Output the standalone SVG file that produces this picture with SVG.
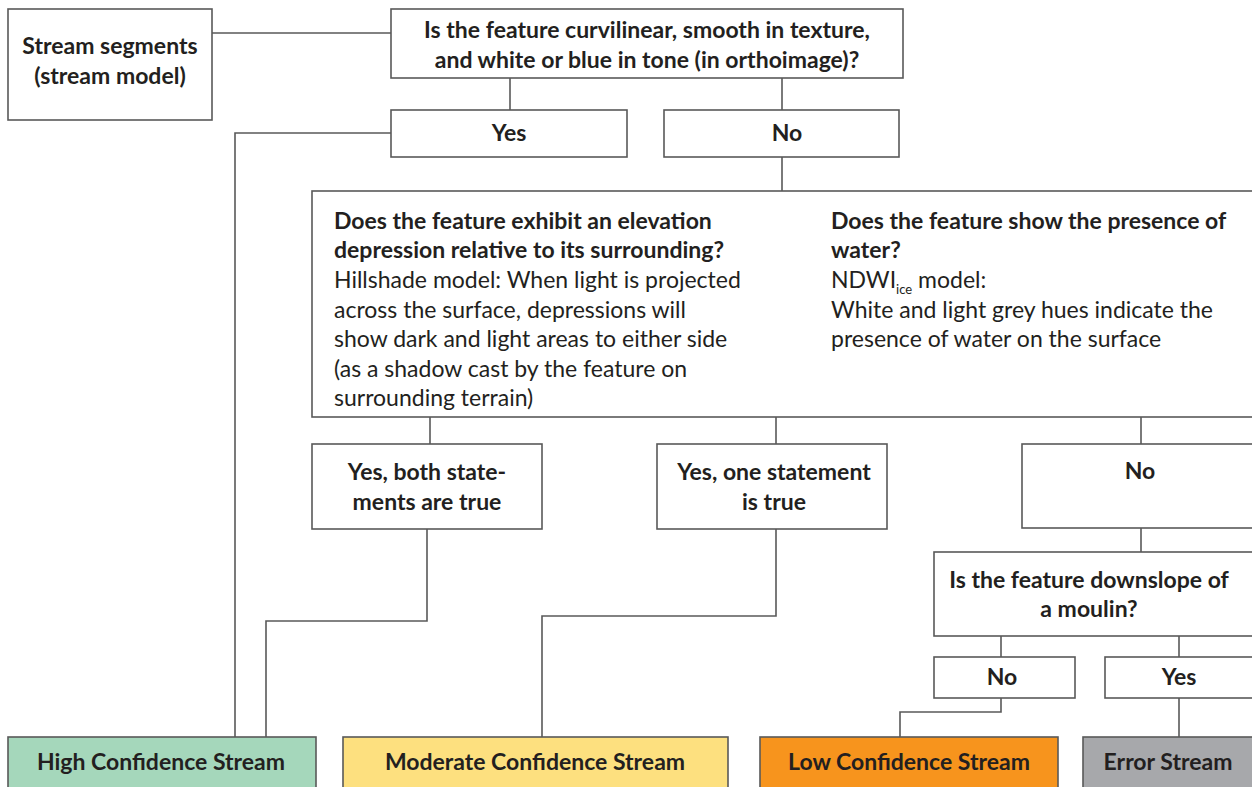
<svg xmlns="http://www.w3.org/2000/svg" width="1252" height="787" viewBox="0 0 1252 787">
<style>
.box{fill:#fff;stroke:#595959;stroke-width:1.6}
.c{fill:none;stroke:#595959;stroke-width:1.6}
text{font-family:Lato,"Liberation Sans",sans-serif;font-size:23px;fill:#231f20}
.b{font-weight:bold}
.m{text-anchor:middle}
</style>
<rect width="1252" height="787" fill="#fff"/>
<g id="connectors">
<polyline class="c" points="212,33 391,33"/>
<polyline class="c" points="510,78 510,110"/>
<polyline class="c" points="782,78 782,110"/>
<polyline class="c" points="391,133 235,133 235,737"/>
<polyline class="c" points="782,157 782,191"/>
<polyline class="c" points="430,417 430,444"/>
<polyline class="c" points="776,417 776,444"/>
<polyline class="c" points="1141,417 1141,444"/>
<polyline class="c" points="427,529 427,621 266,621 266,737"/>
<polyline class="c" points="776,529 776,616 542,616 542,737"/>
<polyline class="c" points="1141,528 1141,552"/>
<polyline class="c" points="1001,636 1001,657"/>
<polyline class="c" points="1179,636 1179,657"/>
<polyline class="c" points="1001,698 1001,712 900,712 900,737"/>
<polyline class="c" points="1179,698 1179,737"/>
</g>
<g id="start">
<rect class="box" x="8" y="9" width="204" height="111"/>
<text class="b m" x="110" y="54">Stream segments</text>
<text class="b m" x="110" y="84">(stream model)</text>
</g>
<g id="q1">
<rect class="box" x="391" y="9" width="512" height="69"/>
<text class="b m" x="647" y="38">Is the feature curvilinear, smooth in texture,</text>
<text class="b m" x="647" y="68">and white or blue in tone (in orthoimage)?</text>
</g>
<g id="yes1">
<rect class="box" x="391" y="110" width="236" height="47"/>
<text class="b m" x="509" y="141">Yes</text>
</g>
<g id="no1">
<rect class="box" x="664" y="110" width="235" height="47"/>
<text class="b m" x="787" y="141">No</text>
</g>
<g id="q2">
<rect class="box" x="312" y="191" width="945" height="226"/>
<text class="b" x="334" y="229">Does the feature exhibit an elevation</text>
<text class="b" x="334" y="258">depression relative to its surrounding?</text>
<text x="334" y="288">Hillshade model: When light is projected</text>
<text x="334" y="318">across the surface, depressions will</text>
<text x="334" y="347">show dark and light areas to either side</text>
<text x="334" y="377">(as a shadow cast by the feature on</text>
<text x="334" y="406">surrounding terrain)</text>
<text class="b" x="831" y="229">Does the feature show the presence of</text>
<text class="b" x="831" y="258">water?</text>
<text x="831" y="288">NDWI<tspan font-size="13" dy="6">ice</tspan><tspan dy="-6"> model:</tspan></text>
<text x="831" y="318">White and light grey hues indicate the</text>
<text x="831" y="347">presence of water on the surface</text>
</g>
<g id="both">
<rect class="box" x="312" y="444" width="230" height="85"/>
<text class="b m" x="427" y="480">Yes, both state-</text>
<text class="b m" x="427" y="510">ments are true</text>
</g>
<g id="one">
<rect class="box" x="657" y="444" width="230" height="85"/>
<text class="b m" x="774" y="480">Yes, one statement</text>
<text class="b m" x="774" y="510">is true</text>
</g>
<g id="no2">
<rect class="box" x="1022" y="444" width="235" height="84"/>
<text class="b m" x="1140" y="479">No</text>
</g>
<g id="q3">
<rect class="box" x="934" y="552" width="323" height="84"/>
<text class="b m" x="1089" y="588">Is the feature downslope of</text>
<text class="b m" x="1089" y="617">a moulin?</text>
</g>
<g id="no3">
<rect class="box" x="934" y="657" width="141" height="41"/>
<text class="b m" x="1002" y="685">No</text>
</g>
<g id="yes3">
<rect class="box" x="1105" y="657" width="152" height="41"/>
<text class="b m" x="1179" y="685">Yes</text>
</g>
<g id="high">
<rect x="8" y="737" width="308" height="60" fill="#a5d7bb" stroke="#595959" stroke-width="1.6"/>
<text class="b m" x="161" y="770">High Confidence Stream</text>
</g>
<g id="moderate">
<rect x="343" y="737" width="385" height="60" fill="#fde07f" stroke="#595959" stroke-width="1.6"/>
<text class="b m" x="535" y="770">Moderate Confidence Stream</text>
</g>
<g id="low">
<rect x="760" y="737" width="298" height="60" fill="#f7941d" stroke="#595959" stroke-width="1.6"/>
<text class="b m" x="909" y="770">Low Confidence Stream</text>
</g>
<g id="error">
<rect x="1083" y="737" width="174" height="60" fill="#a7a8ab" stroke="#595959" stroke-width="1.6"/>
<text class="b m" x="1168" y="770">Error Stream</text>
</g>
</svg>
